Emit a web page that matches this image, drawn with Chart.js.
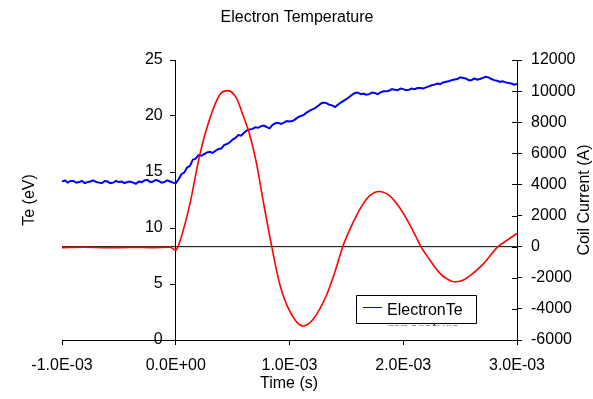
<!DOCTYPE html>
<html>
<head>
<meta charset="utf-8">
<title>Electron Temperature</title>
<script src="https://cdn.jsdelivr.net/npm/chart.js@4.4.1/dist/chart.umd.min.js"></script>
<style>
  html, body { margin: 0; padding: 0; background: #fff; }
  canvas { display: block; }
</style>
</head>
<body>
<canvas id="chart" width="593" height="399"></canvas>
<script>
// time in ms, shown on the axis in seconds
const teTimes = [
  -1.000, -0.975, -0.950, -0.925, -0.900, -0.875, -0.850, -0.825, -0.800, -0.775,
  -0.750, -0.725, -0.700, -0.675, -0.650, -0.625, -0.600, -0.575, -0.550, -0.525,
  -0.500, -0.475, -0.450, -0.425, -0.400, -0.375, -0.350, -0.325, -0.300, -0.275,
  -0.250, -0.225, -0.200, -0.175, -0.150, -0.125, -0.100, -0.075, -0.050, -0.025,
  0.000, 0.025, 0.050, 0.075, 0.100, 0.125, 0.150, 0.175, 0.200, 0.225,
  0.250, 0.275, 0.300, 0.325, 0.350, 0.375, 0.400, 0.425, 0.450, 0.475,
  0.500, 0.525, 0.550, 0.575, 0.600, 0.625, 0.650, 0.675, 0.700, 0.725,
  0.750, 0.775, 0.800, 0.825, 0.850, 0.875, 0.900, 0.925, 0.950, 0.975,
  1.000, 1.025, 1.050, 1.075, 1.100, 1.125, 1.150, 1.175, 1.200, 1.225,
  1.250, 1.275, 1.300, 1.325, 1.350, 1.375, 1.400, 1.425, 1.450, 1.475,
  1.500, 1.525, 1.550, 1.575, 1.600, 1.625, 1.650, 1.675, 1.700, 1.725,
  1.750, 1.775, 1.800, 1.825, 1.850, 1.875, 1.900, 1.925, 1.950, 1.975,
  2.000, 2.025, 2.050, 2.075, 2.100, 2.125, 2.150, 2.175, 2.200, 2.225,
  2.250, 2.275, 2.300, 2.325, 2.350, 2.375, 2.400, 2.425, 2.450, 2.475,
  2.500, 2.525, 2.550, 2.575, 2.600, 2.625, 2.650, 2.675, 2.700, 2.725,
  2.750, 2.775, 2.800, 2.825, 2.850, 2.875, 2.900, 2.925, 2.950, 2.975,
  3.000
];
const teValues = [
  14.15, 14.25, 14.05, 14.20, 14.20, 14.05, 14.10, 14.20, 14.00, 14.10,
  14.15, 14.25, 14.10, 14.05, 14.00, 14.20, 14.15, 14.00, 14.05, 14.20,
  14.10, 14.15, 14.00, 14.10, 14.15, 14.05, 13.95, 14.15, 14.10, 14.25,
  14.30, 14.10, 14.15, 14.30, 14.20, 14.05, 14.10, 14.25, 14.15, 14.05,
  14.00, 14.35, 14.80, 14.95, 15.40, 15.55, 16.10, 16.20, 16.50, 16.45,
  16.60, 16.75, 16.80, 16.70, 16.90, 17.05, 17.10, 17.40, 17.50, 17.65,
  17.90, 18.05, 18.30, 18.25, 18.50, 18.70, 18.80, 18.85, 19.00, 18.95,
  19.10, 19.15, 19.00, 18.90, 19.20, 19.35, 19.40, 19.30, 19.40, 19.55,
  19.50, 19.55, 19.70, 19.90, 20.00, 20.10, 20.30, 20.45, 20.60, 20.70,
  20.90, 21.10, 21.20, 21.15, 21.00, 20.95, 20.80, 21.00, 21.20, 21.35,
  21.50, 21.70, 21.90, 22.05, 22.10, 21.95, 22.00, 21.90, 21.95, 22.10,
  22.05, 21.95, 22.10, 22.20, 22.20, 22.25, 22.40, 22.35, 22.30, 22.45,
  22.40, 22.30, 22.35, 22.45, 22.40, 22.50, 22.50, 22.45, 22.55, 22.65,
  22.75, 22.80, 22.90, 22.85, 23.00, 23.05, 23.10, 23.20, 23.25, 23.30,
  23.45, 23.40, 23.35, 23.20, 23.20, 23.35, 23.25, 23.30, 23.40, 23.50,
  23.45, 23.30, 23.20, 23.15, 23.05, 23.10, 23.00, 22.95, 22.90, 22.80,
  22.85
];

const coilTimes = [
  -1.00, -0.80, -0.60, -0.40, -0.20, -0.05, 0.00, 0.02, 0.123, 0.211,
  0.299, 0.387, 0.457, 0.536, 0.589, 0.65, 0.712, 0.765, 0.844, 0.914,
  1.002, 1.116, 1.204, 1.327, 1.400, 1.468, 1.530, 1.589, 1.647, 1.706,
  1.787, 1.881, 1.969, 2.057, 2.116, 2.155, 2.233, 2.321, 2.380, 2.450,
  2.520, 2.585, 2.702, 2.833, 2.920, 3.000
];
const coilValues = [
  -60, -40, -70, -50, -60, -40, -220, 0, 2700, 5900,
  8230, 9770, 10030, 9520, 8490, 7200, 5270, 3090, 0, -2400,
  -4150, -5100, -4700, -3090, -1600, 0, 1100, 2000, 2750, 3280,
  3550, 3270, 2500, 1420, 580, 0, -850, -1700, -2050, -2260,
  -2180, -1880, -1120, 0, 450, 850
];

const zeroLineTimes = [-1.0, 3.0];
const zeroLineValues = [0, 0];

const teTicks = [0, 5, 10, 15, 20, 25];
const coilTicks = [-6000, -4000, -2000, 0, 2000, 4000, 6000, 8000, 10000, 12000];
const timeTicks = [-1, 0, 1, 2, 3];

const FONT = "'Liberation Sans', Arial, sans-serif";

const toPoints = (xs, ys) => xs.map((x, i) => ({ x: x, y: ys[i] }));

const sciLabel = (ms) => {
    let v = ms * 1e-3;
    if (Math.abs(v) < 1e-12) v = 0;
    const parts = v.toExponential(1).split("e");
    const exp = parseInt(parts[1]);
    return parts[0] + "E" + (exp < 0 ? "-" : "+") + String(Math.abs(exp)).padStart(2, "0");
};

// titles, left tick labels, legend and the inner half of the right axis ticks
const decorations = {
    id: "decorations",
    afterDraw(chart) {
        const ctx = chart.ctx;
        const area = chart.chartArea;
        const y = chart.scales.y;
        const y2 = chart.scales.y2;
        const axisX = chart.scales.x.getPixelForValue(0);

        ctx.save();
        ctx.strokeStyle = "#000";
        ctx.lineWidth = 1;
        y2.ticks.forEach((t) => {
            const py = Math.round(y2.getPixelForValue(t.value)) + 0.5;
            ctx.beginPath();
            ctx.moveTo(area.right - 5, py);
            ctx.lineTo(area.right, py);
            ctx.stroke();
        });

        ctx.fillStyle = "#000";
        ctx.font = "16px " + FONT;
        ctx.textAlign = "right";
        ctx.textBaseline = "middle";
        y.ticks.forEach((t) => {
            ctx.fillText(String(t.value), axisX - 13, y.getPixelForValue(t.value));
        });

        ctx.textAlign = "center";
        ctx.fillText("Electron Temperature", 297, 18);
        ctx.fillText("Time (s)", 289, 384);

        ctx.save();
        ctx.translate(30, 200);
        ctx.rotate(-Math.PI / 2);
        ctx.fillText("Te (eV)", 0, 0);
        ctx.restore();

        ctx.save();
        ctx.translate(585, 200);
        ctx.rotate(-Math.PI / 2);
        ctx.fillText("Coil Current (A)", 0, 0);
        ctx.restore();

        // legend box, the text wraps and the second line is cut off
        const lx = 356.5, ly = 295.5, lw = 120, lh = 28;
        ctx.fillStyle = "#fff";
        ctx.fillRect(lx, ly, lw, lh);
        ctx.save();
        ctx.beginPath();
        ctx.rect(lx, ly, lw, lh + 2);
        ctx.clip();
        ctx.fillStyle = "#000";
        ctx.textAlign = "left";
        ctx.textBaseline = "alphabetic";
        ctx.fillText("ElectronTe", 387, 315);
        ctx.fillText("mperature", 387, 334);
        ctx.restore();

        ctx.beginPath();
        ctx.strokeStyle = "rgb(0, 0, 255)";
        ctx.lineWidth = 1;
        ctx.moveTo(363, 307.5);
        ctx.lineTo(382, 307.5);
        ctx.stroke();

        ctx.beginPath();
        ctx.strokeStyle = "#000";
        ctx.rect(lx, ly, lw, lh);
        ctx.stroke();
        ctx.restore();
    }
};

const axisStyle = {
    border: { display: true, color: "#000", width: 1 },
    grid: { drawOnChartArea: false, drawTicks: true, tickLength: 5, color: "#000" },
};

new Chart(document.getElementById("chart").getContext("2d"), {
    type: "line",
    data: {
        datasets: [
            {
                label: "ElectronTemperature",
                data: toPoints(teTimes, teValues),
                yAxisID: "y",
                borderColor: "#0000ff",
                borderWidth: 2,
                pointRadius: 0,
                tension: 0,
                order: 2,
            },
            {
                label: "Coil Current",
                data: toPoints(coilTimes, coilValues),
                yAxisID: "y2",
                borderColor: "#ff0000",
                borderWidth: 1.6,
                pointRadius: 0,
                cubicInterpolationMode: "monotone",
                order: 1,
            },
            {
                label: "zero",
                data: toPoints(zeroLineTimes, zeroLineValues),
                yAxisID: "y2",
                borderColor: "#000",
                borderWidth: 1,
                pointRadius: 0,
                order: 3,
            },
        ],
    },
    options: {
        responsive: false,
        animation: false,
        layout: { padding: { left: 62, top: 60, right: 0, bottom: 0 } },
        plugins: {
            legend: { display: false },
            title: { display: false },
            tooltip: { enabled: false },
        },
        scales: {
            x: {
                type: "linear",
                position: "bottom",
                min: -1,
                max: 3,
                afterFit: (s) => { s.height = 59; },
                afterBuildTicks: (s) => { s.ticks = timeTicks.map((v) => ({ value: v })); },
                ticks: {
                    color: "#000",
                    font: { family: FONT, size: 16 },
                    padding: 11,
                    maxRotation: 0,
                    callback: (v) => sciLabel(v),
                },
                ...axisStyle,
            },
            y: {
                type: "linear",
                position: { x: 0 },
                min: 0,
                max: 25,
                afterBuildTicks: (s) => { s.ticks = teTicks.map((v) => ({ value: v })); },
                ticks: { display: false },
                ...axisStyle,
            },
            y2: {
                type: "linear",
                position: "right",
                min: -6000,
                max: 12000,
                afterFit: (s) => { s.width = 76; },
                afterBuildTicks: (s) => { s.ticks = coilTicks.map((v) => ({ value: v })); },
                ticks: {
                    color: "#000",
                    font: { family: FONT, size: 16 },
                    padding: 9,
                    callback: (v) => String(v),
                },
                ...axisStyle,
            },
        },
    },
    plugins: [decorations],
});
</script>
</body>
</html>
